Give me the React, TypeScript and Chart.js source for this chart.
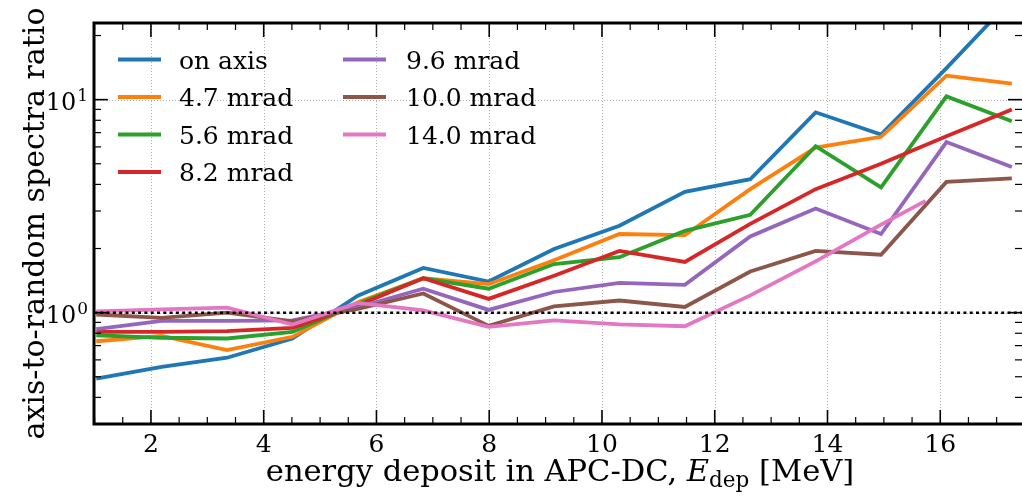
import React, { useEffect, useRef } from 'react';
import { Chart, registerables } from 'chart.js';
Chart.register(...registerables);

// ---- data ----
const energyMeV = [1.03, 2.19, 3.35, 4.51, 5.67, 6.83, 7.99, 9.15, 10.31, 11.47, 12.63, 13.79, 14.95, 16.11, 17.27];
const energyMeV14 = [1.03, 2.19, 3.35, 4.51, 5.67, 6.83, 7.99, 9.15, 10.31, 11.47, 12.63, 13.79, 14.95, 15.74];

const onAxis = [0.49, 0.557, 0.614, 0.756, 1.2, 1.62, 1.4, 1.99, 2.56, 3.69, 4.23, 8.72, 6.86, 14.06, 29.6];
const mrad4p7 = [0.734, 0.778, 0.667, 0.77, 1.12, 1.45, 1.36, 1.76, 2.34, 2.31, 3.8, 5.95, 6.69, 12.95, 11.88];
const mrad5p6 = [0.783, 0.762, 0.756, 0.812, 1.1, 1.45, 1.295, 1.69, 1.82, 2.42, 2.88, 6.05, 3.87, 10.36, 7.92];
const mrad8p2 = [0.812, 0.812, 0.818, 0.848, 1.08, 1.45, 1.16, 1.49, 1.95, 1.73, 2.61, 3.8, 5.0, 6.74, 8.98];
const mrad9p6 = [0.836, 0.915, 0.915, 0.92, 1.06, 1.295, 1.03, 1.25, 1.38, 1.35, 2.28, 3.08, 2.34, 6.32, 4.83];
const mrad10p0 = [0.98, 0.945, 1.0, 0.91, 1.04, 1.23, 0.867, 1.07, 1.14, 1.063, 1.56, 1.95, 1.87, 4.11, 4.27];
const mrad14p0 = [1.014, 1.036, 1.055, 0.879, 1.11, 1.025, 0.857, 0.92, 0.88, 0.863, 1.205, 1.74, 2.59, 3.35];

const seriesLabels = ['on axis', '4.7 mrad', '5.6 mrad', '8.2 mrad', '9.6 mrad', '10.0 mrad', '14.0 mrad'];
const seriesColors = ['#1f77b4', '#ff7f0e', '#2ca02c', '#d62728', '#9467bd', '#8c564b', '#e377c2'];
const seriesValues = [onAxis, mrad4p7, mrad5p6, mrad8p2, mrad9p6, mrad10p0, mrad14p0];
const seriesX = [energyMeV, energyMeV, energyMeV, energyMeV, energyMeV, energyMeV, energyMeV14];

const xTickValues = [2, 4, 6, 8, 10, 12, 14, 16];
const xMinorTickValues = [1, 1.5, 2.5, 3, 3.5, 4.5, 5, 5.5, 6.5, 7, 7.5, 8.5, 9, 9.5, 10.5, 11, 11.5, 12.5, 13, 13.5, 14.5, 15, 15.5, 16.5, 17];
const yTickValues = [1, 10];
const yTickExponents = ['0', '1'];
const yMinorTickValues = [0.4, 0.5, 0.6, 0.7, 0.8, 0.9, 2, 3, 4, 5, 6, 7, 8, 9, 20];
const referenceRatio = 1;

const X_MIN = 0.99;
const X_MAX = 17.45;
const Y_MIN = 0.307;
const Y_MAX = 22.9;

const FONT = "'DejaVu Serif', serif";

const decor = {
  id: 'decor',
  beforeDatasetsDraw(chart: any) {
    const { ctx, chartArea: a, scales } = chart;
    const x = scales.x, y = scales.y;
    ctx.save();
    ctx.strokeStyle = 'rgba(170,170,170,0.9)';
    ctx.lineWidth = 1;
    ctx.setLineDash([1, 2]);
    for (const v of xTickValues) {
      const px = Math.round(x.getPixelForValue(v)) + 0.5;
      ctx.beginPath(); ctx.moveTo(px, a.top); ctx.lineTo(px, a.bottom); ctx.stroke();
    }
    for (const v of yTickValues) {
      const py = Math.round(y.getPixelForValue(v)) + 0.5;
      ctx.beginPath(); ctx.moveTo(a.left, py); ctx.lineTo(a.right, py); ctx.stroke();
    }
    ctx.restore();
  },
  afterDatasetsDraw(chart: any) {
    const { ctx, chartArea: a, scales } = chart;
    const x = scales.x, y = scales.y;
    ctx.save();
    // reference line at ratio 1
    const py1 = y.getPixelForValue(referenceRatio);
    ctx.strokeStyle = '#000';
    ctx.lineWidth = 2.5;
    ctx.setLineDash([3, 3.3]);
    ctx.beginPath(); ctx.moveTo(a.left, py1); ctx.lineTo(a.right, py1); ctx.stroke();
    ctx.setLineDash([]);

    // ticks (inward, all four sides)
    ctx.strokeStyle = '#000';
    const tick = (x0: number, y0: number, x1: number, y1: number, w: number) => {
      ctx.lineWidth = w;
      ctx.beginPath(); ctx.moveTo(x0, y0); ctx.lineTo(x1, y1); ctx.stroke();
    };
    for (const v of xTickValues) {
      const px = x.getPixelForValue(v);
      tick(px, a.bottom, px, a.bottom - 14, 1.6);
      tick(px, a.top, px, a.top + 14, 1.6);
    }
    for (const v of xMinorTickValues) {
      const px = x.getPixelForValue(v);
      tick(px, a.bottom, px, a.bottom - 7, 1.2);
      tick(px, a.top, px, a.top + 7, 1.2);
    }
    for (const v of yTickValues) {
      const py = y.getPixelForValue(v);
      tick(a.left, py, a.left + 14, py, 1.6);
      tick(a.right, py, a.right - 14, py, 1.6);
    }
    for (const v of yMinorTickValues) {
      const py = y.getPixelForValue(v);
      tick(a.left, py, a.left + 7, py, 1.2);
      tick(a.right, py, a.right - 7, py, 1.2);
    }

    // frame
    ctx.lineWidth = 3;
    ctx.strokeRect(a.left, a.top, a.right - a.left + 1.5, a.bottom - a.top);
    ctx.restore();
  },
  afterDraw(chart: any) {
    const { ctx, chartArea: a, scales } = chart;
    const y = scales.y;
    ctx.save();
    ctx.fillStyle = '#000';

    // y tick labels: 10 with superscript exponent
    yTickValues.forEach((v, i) => {
      const py = y.getPixelForValue(v);
      const right = a.left - 6;
      ctx.textBaseline = 'alphabetic';
      ctx.textAlign = 'right';
      ctx.font = `17px ${FONT}`;
      ctx.fillText(yTickExponents[i], right, py + 1);
      const ew = ctx.measureText(yTickExponents[i]).width;
      ctx.font = `24px ${FONT}`;
      ctx.fillText('10', right - ew - 1, py + 10);
    });

    // legend (two columns, no frame)
    const cols = [{ lx: 118, tx: 179 }, { lx: 343, tx: 406 }];
    const rowY = [59.5, 97, 134.5, 172];
    ctx.font = `25px ${FONT}`;
    ctx.textBaseline = 'alphabetic';
    ctx.textAlign = 'left';
    seriesLabels.forEach((lab, i) => {
      const c = cols[i < 4 ? 0 : 1];
      const ry = rowY[i < 4 ? i : i - 4];
      ctx.strokeStyle = seriesColors[i];
      ctx.lineWidth = 4;
      ctx.beginPath(); ctx.moveTo(c.lx, ry); ctx.lineTo(c.lx + 43, ry); ctx.stroke();
      ctx.fillStyle = '#000';
      ctx.fillText(lab, c.tx, ry + 9);
    });

    // x axis title with italic E and subscript
    const parts = [
      { t: 'energy deposit in APC-DC, ', f: `30.5px ${FONT}`, dy: 0 },
      { t: 'E', f: `italic 30.5px ${FONT}`, dy: 0 },
      { t: 'dep', f: `21.5px ${FONT}`, dy: 6 },
      { t: ' [MeV]', f: `30.5px ${FONT}`, dy: 0 },
    ];
    let total = 0;
    for (const p of parts) { ctx.font = p.f; total += ctx.measureText(p.t).width; }
    let cx = (a.left + a.right) / 2 + 2 - total / 2;
    const base = 481;
    for (const p of parts) {
      ctx.font = p.f;
      ctx.fillText(p.t, cx, base + p.dy);
      cx += ctx.measureText(p.t).width;
    }

    // y axis title
    ctx.translate(44, (a.top + a.bottom) / 2);
    ctx.rotate(-Math.PI / 2);
    ctx.font = `30px ${FONT}`;
    ctx.textAlign = 'center';
    ctx.fillText('axis-to-random spectra ratio', 0, 0);
    ctx.restore();
  },
};

export default function App() {
  const ref = useRef<HTMLCanvasElement | null>(null);
  useEffect(() => {
    if (!ref.current) return;
    const n = seriesLabels.length;
    const chart = new Chart(ref.current, {
      type: 'line',
      data: {
        datasets: seriesLabels.map((lab, i) => ({
          label: lab,
          data: seriesValues[i].map((v, k) => ({ x: seriesX[i][k], y: v })),
          borderColor: seriesColors[i],
          backgroundColor: seriesColors[i],
          borderWidth: 3.8,
          pointRadius: 0,
          tension: 0,
          fill: false,
          order: n - i,
          clip: 0,
        })),
      },
      options: {
        animation: false,
        responsive: false,
        devicePixelRatio: 1,
        layout: { padding: { left: 0, right: 0, top: 23, bottom: 0 } },
        plugins: { legend: { display: false }, tooltip: { enabled: false } },
        scales: {
          x: {
            type: 'linear',
            min: X_MIN,
            max: X_MAX,
            grid: { display: false },
            border: { display: false },
            afterBuildTicks: (s: any) => { s.ticks = xTickValues.map((v) => ({ value: v })); },
            afterFit: (s: any) => { s.height = 73; },
            ticks: {
              font: { family: FONT, size: 25 },
              color: '#000',
              padding: -2,
              maxRotation: 0,
              autoSkip: false,
              callback: (v: any) => String(v),
            },
          },
          y: {
            type: 'logarithmic',
            min: Y_MIN,
            max: Y_MAX,
            grid: { display: false },
            border: { display: false },
            afterBuildTicks: (s: any) => { s.ticks = yTickValues.map((v) => ({ value: v })); },
            afterFit: (s: any) => { s.width = 94; },
            ticks: {
              display: true,
              font: { family: FONT, size: 25 },
              color: 'rgba(0,0,0,0)',
              padding: 7,
              autoSkip: false,
              callback: () => '',
            },
          },
        },
      },
      plugins: [decor],
    } as any);
    return () => chart.destroy();
  }, []);
  return (
    <div style={{ position: 'absolute', left: 0, top: 0, width: 1022, height: 497, background: '#fff' }}>
      <canvas ref={ref} width={1022} height={497} style={{ width: 1022, height: 497, display: 'block' }} />
    </div>
  );
}
